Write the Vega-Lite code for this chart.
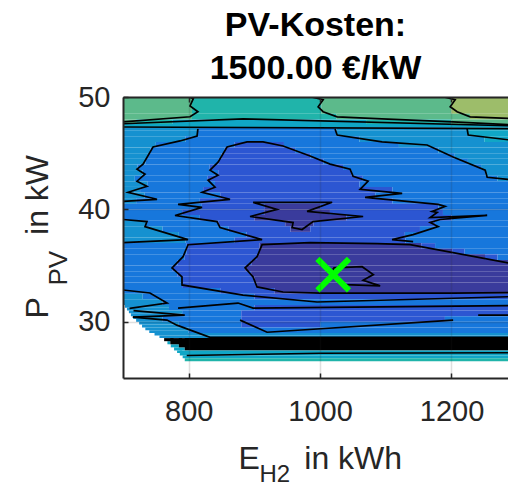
{
  "$schema": "https://vega.github.io/schema/vega-lite/v6.json",
  "width": 385,
  "height": 281,
  "autosize": "none",
  "padding": {"left": 123, "top": 97, "right": 0, "bottom": 107},
  "background": "white",
  "view": {"stroke": null},
  "title": {
    "text": ["PV-Kosten:", "1500.00 €/kW"],
    "font": "Liberation Sans",
    "fontSize": 34,
    "fontWeight": "bold",
    "color": "#000000",
    "lineHeight": 43,
    "offset": -3,
    "anchor": "middle"
  },
  "datasets": {
    "cells": [
      {"y": 48.5, "y2": 50, "x": 700, "x2": 805, "z": 6},
      {"y": 48.5, "y2": 50, "x": 805, "x2": 1002, "z": 5},
      {"y": 48.5, "y2": 50, "x": 1002, "x2": 1200, "z": 6},
      {"y": 48.5, "y2": 50, "x": 1200, "x2": 1300, "z": 7},
      {"y": 48.0, "y2": 48.5, "x": 700, "x2": 805, "z": 6},
      {"y": 48.0, "y2": 48.5, "x": 805, "x2": 1025, "z": 5},
      {"y": 48.0, "y2": 48.5, "x": 1025, "x2": 1228, "z": 6},
      {"y": 48.0, "y2": 48.5, "x": 1228, "x2": 1300, "z": 7},
      {"y": 47.6, "y2": 48.0, "x": 700, "x2": 720, "z": 6},
      {"y": 47.6, "y2": 48.0, "x": 720, "x2": 775, "z": 5},
      {"y": 47.6, "y2": 48.0, "x": 775, "x2": 1070, "z": 4},
      {"y": 47.6, "y2": 48.0, "x": 1070, "x2": 1200, "z": 5},
      {"y": 47.6, "y2": 48.0, "x": 1200, "x2": 1300, "z": 6},
      {"y": 47.3, "y2": 47.6, "x": 700, "x2": 1300, "z": 4},
      {"y": 47.0, "y2": 47.3, "x": 700, "x2": 814, "z": 3},
      {"y": 47.0, "y2": 47.3, "x": 814, "x2": 1025, "z": 2},
      {"y": 47.0, "y2": 47.3, "x": 1025, "x2": 1225, "z": 3},
      {"y": 47.0, "y2": 47.3, "x": 1225, "x2": 1300, "z": 4},
      {"y": 46.5, "y2": 47.0, "x": 700, "x2": 814, "z": 3},
      {"y": 46.5, "y2": 47.0, "x": 814, "x2": 1025, "z": 2},
      {"y": 46.5, "y2": 47.0, "x": 1025, "x2": 1225, "z": 3},
      {"y": 46.5, "y2": 47.0, "x": 1225, "x2": 1300, "z": 4},
      {"y": 46.0, "y2": 46.5, "x": 700, "x2": 795, "z": 3},
      {"y": 46.0, "y2": 46.5, "x": 795, "x2": 1060, "z": 2},
      {"y": 46.0, "y2": 46.5, "x": 1060, "x2": 1250, "z": 3},
      {"y": 46.0, "y2": 46.5, "x": 1250, "x2": 1300, "z": 4},
      {"y": 45.5, "y2": 46.0, "x": 700, "x2": 750, "z": 3},
      {"y": 45.5, "y2": 46.0, "x": 750, "x2": 870, "z": 2},
      {"y": 45.5, "y2": 46.0, "x": 870, "x2": 945, "z": 1},
      {"y": 45.5, "y2": 46.0, "x": 945, "x2": 1120, "z": 2},
      {"y": 45.5, "y2": 46.0, "x": 1120, "x2": 1300, "z": 3},
      {"y": 45.0, "y2": 45.5, "x": 700, "x2": 742, "z": 3},
      {"y": 45.0, "y2": 45.5, "x": 742, "x2": 855, "z": 2},
      {"y": 45.0, "y2": 45.5, "x": 855, "x2": 962, "z": 1},
      {"y": 45.0, "y2": 45.5, "x": 962, "x2": 1180, "z": 2},
      {"y": 45.0, "y2": 45.5, "x": 1180, "x2": 1300, "z": 3},
      {"y": 44.5, "y2": 45.0, "x": 700, "x2": 738, "z": 3},
      {"y": 44.5, "y2": 45.0, "x": 738, "x2": 850, "z": 2},
      {"y": 44.5, "y2": 45.0, "x": 850, "x2": 985, "z": 1},
      {"y": 44.5, "y2": 45.0, "x": 985, "x2": 1205, "z": 2},
      {"y": 44.5, "y2": 45.0, "x": 1205, "x2": 1300, "z": 3},
      {"y": 44.0, "y2": 44.5, "x": 700, "x2": 734, "z": 3},
      {"y": 44.0, "y2": 44.5, "x": 734, "x2": 845, "z": 2},
      {"y": 44.0, "y2": 44.5, "x": 845, "x2": 1005, "z": 1},
      {"y": 44.0, "y2": 44.5, "x": 1005, "x2": 1225, "z": 2},
      {"y": 44.0, "y2": 44.5, "x": 1225, "x2": 1300, "z": 3},
      {"y": 43.5, "y2": 44.0, "x": 700, "x2": 722, "z": 3},
      {"y": 43.5, "y2": 44.0, "x": 722, "x2": 832, "z": 2},
      {"y": 43.5, "y2": 44.0, "x": 832, "x2": 1035, "z": 1},
      {"y": 43.5, "y2": 44.0, "x": 1035, "x2": 1245, "z": 2},
      {"y": 43.5, "y2": 44.0, "x": 1245, "x2": 1300, "z": 3},
      {"y": 43.0, "y2": 43.5, "x": 700, "x2": 730, "z": 3},
      {"y": 43.0, "y2": 43.5, "x": 730, "x2": 845, "z": 2},
      {"y": 43.0, "y2": 43.5, "x": 845, "x2": 1048, "z": 1},
      {"y": 43.0, "y2": 43.5, "x": 1048, "x2": 1252, "z": 2},
      {"y": 43.0, "y2": 43.5, "x": 1252, "x2": 1300, "z": 3},
      {"y": 42.5, "y2": 43.0, "x": 700, "x2": 718, "z": 3},
      {"y": 42.5, "y2": 43.0, "x": 718, "x2": 829, "z": 2},
      {"y": 42.5, "y2": 43.0, "x": 829, "x2": 1065, "z": 1},
      {"y": 42.5, "y2": 43.0, "x": 1065, "x2": 1270, "z": 2},
      {"y": 42.5, "y2": 43.0, "x": 1270, "x2": 1300, "z": 3},
      {"y": 42.0, "y2": 42.5, "x": 700, "x2": 737, "z": 3},
      {"y": 42.0, "y2": 42.5, "x": 737, "x2": 840, "z": 2},
      {"y": 42.0, "y2": 42.5, "x": 840, "x2": 1060, "z": 1},
      {"y": 42.0, "y2": 42.5, "x": 1060, "x2": 1300, "z": 2},
      {"y": 41.5, "y2": 42.0, "x": 700, "x2": 726, "z": 3},
      {"y": 41.5, "y2": 42.0, "x": 726, "x2": 822, "z": 2},
      {"y": 41.5, "y2": 42.0, "x": 822, "x2": 1110, "z": 1},
      {"y": 41.5, "y2": 42.0, "x": 1110, "x2": 1300, "z": 2},
      {"y": 41.0, "y2": 41.5, "x": 700, "x2": 733, "z": 3},
      {"y": 41.0, "y2": 41.5, "x": 733, "x2": 848, "z": 2},
      {"y": 41.0, "y2": 41.5, "x": 848, "x2": 1084, "z": 1},
      {"y": 41.0, "y2": 41.5, "x": 1084, "x2": 1300, "z": 2},
      {"y": 40.5, "y2": 41.0, "x": 700, "x2": 720, "z": 3},
      {"y": 40.5, "y2": 41.0, "x": 720, "x2": 817, "z": 2},
      {"y": 40.5, "y2": 41.0, "x": 817, "x2": 1110, "z": 1},
      {"y": 40.5, "y2": 41.0, "x": 1110, "x2": 1300, "z": 2},
      {"y": 40.0, "y2": 40.5, "x": 700, "x2": 820, "z": 2},
      {"y": 40.0, "y2": 40.5, "x": 820, "x2": 916, "z": 1},
      {"y": 40.0, "y2": 40.5, "x": 916, "x2": 1000, "z": 0},
      {"y": 40.0, "y2": 40.5, "x": 1000, "x2": 1180, "z": 1},
      {"y": 40.0, "y2": 40.5, "x": 1180, "x2": 1300, "z": 2},
      {"y": 39.5, "y2": 40.0, "x": 700, "x2": 790, "z": 2},
      {"y": 39.5, "y2": 40.0, "x": 790, "x2": 915, "z": 1},
      {"y": 39.5, "y2": 40.0, "x": 915, "x2": 1015, "z": 0},
      {"y": 39.5, "y2": 40.0, "x": 1015, "x2": 1187, "z": 1},
      {"y": 39.5, "y2": 40.0, "x": 1187, "x2": 1300, "z": 2},
      {"y": 39.0, "y2": 39.5, "x": 700, "x2": 817, "z": 2},
      {"y": 39.0, "y2": 39.5, "x": 817, "x2": 900, "z": 1},
      {"y": 39.0, "y2": 39.5, "x": 900, "x2": 1040, "z": 0},
      {"y": 39.0, "y2": 39.5, "x": 1040, "x2": 1200, "z": 1},
      {"y": 39.0, "y2": 39.5, "x": 1200, "x2": 1300, "z": 2},
      {"y": 38.5, "y2": 39.0, "x": 700, "x2": 735, "z": 3},
      {"y": 38.5, "y2": 39.0, "x": 735, "x2": 845, "z": 2},
      {"y": 38.5, "y2": 39.0, "x": 845, "x2": 947, "z": 1},
      {"y": 38.5, "y2": 39.0, "x": 947, "x2": 990, "z": 0},
      {"y": 38.5, "y2": 39.0, "x": 990, "x2": 1175, "z": 1},
      {"y": 38.5, "y2": 39.0, "x": 1175, "x2": 1300, "z": 2},
      {"y": 38.0, "y2": 38.5, "x": 700, "x2": 760, "z": 3},
      {"y": 38.0, "y2": 38.5, "x": 760, "x2": 861, "z": 2},
      {"y": 38.0, "y2": 38.5, "x": 861, "x2": 955, "z": 1},
      {"y": 38.0, "y2": 38.5, "x": 955, "x2": 985, "z": 0},
      {"y": 38.0, "y2": 38.5, "x": 985, "x2": 1152, "z": 1},
      {"y": 38.0, "y2": 38.5, "x": 1152, "x2": 1300, "z": 2},
      {"y": 37.5, "y2": 38.0, "x": 700, "x2": 785, "z": 3},
      {"y": 37.5, "y2": 38.0, "x": 785, "x2": 888, "z": 2},
      {"y": 37.5, "y2": 38.0, "x": 888, "x2": 1129, "z": 1},
      {"y": 37.5, "y2": 38.0, "x": 1129, "x2": 1300, "z": 2},
      {"y": 37.0, "y2": 37.5, "x": 700, "x2": 795, "z": 3},
      {"y": 37.0, "y2": 37.5, "x": 795, "x2": 870, "z": 2},
      {"y": 37.0, "y2": 37.5, "x": 870, "x2": 1130, "z": 1},
      {"y": 37.0, "y2": 37.5, "x": 1130, "x2": 1300, "z": 2},
      {"y": 36.5, "y2": 37.0, "x": 700, "x2": 797, "z": 2},
      {"y": 36.5, "y2": 37.0, "x": 797, "x2": 908, "z": 1},
      {"y": 36.5, "y2": 37.0, "x": 908, "x2": 1154, "z": 0},
      {"y": 36.5, "y2": 37.0, "x": 1154, "x2": 1175, "z": 1},
      {"y": 36.5, "y2": 37.0, "x": 1175, "x2": 1300, "z": 2},
      {"y": 36.0, "y2": 36.5, "x": 700, "x2": 797, "z": 2},
      {"y": 36.0, "y2": 36.5, "x": 797, "x2": 907, "z": 1},
      {"y": 36.0, "y2": 36.5, "x": 907, "x2": 1201, "z": 0},
      {"y": 36.0, "y2": 36.5, "x": 1201, "x2": 1220, "z": 1},
      {"y": 36.0, "y2": 36.5, "x": 1220, "x2": 1300, "z": 2},
      {"y": 35.5, "y2": 36.0, "x": 700, "x2": 794, "z": 2},
      {"y": 35.5, "y2": 36.0, "x": 794, "x2": 904, "z": 1},
      {"y": 35.5, "y2": 36.0, "x": 904, "x2": 1251, "z": 0},
      {"y": 35.5, "y2": 36.0, "x": 1251, "x2": 1270, "z": 1},
      {"y": 35.5, "y2": 36.0, "x": 1270, "x2": 1300, "z": 2},
      {"y": 35.0, "y2": 35.5, "x": 700, "x2": 783, "z": 2},
      {"y": 35.0, "y2": 35.5, "x": 783, "x2": 896, "z": 1},
      {"y": 35.0, "y2": 35.5, "x": 896, "x2": 1300, "z": 0},
      {"y": 34.5, "y2": 35.0, "x": 700, "x2": 775, "z": 2},
      {"y": 34.5, "y2": 35.0, "x": 775, "x2": 886, "z": 1},
      {"y": 34.5, "y2": 35.0, "x": 886, "x2": 1300, "z": 0},
      {"y": 34.0, "y2": 34.5, "x": 700, "x2": 783, "z": 2},
      {"y": 34.0, "y2": 34.5, "x": 783, "x2": 895, "z": 1},
      {"y": 34.0, "y2": 34.5, "x": 895, "x2": 1300, "z": 0},
      {"y": 33.5, "y2": 34.0, "x": 700, "x2": 790, "z": 2},
      {"y": 33.5, "y2": 34.0, "x": 790, "x2": 900, "z": 1},
      {"y": 33.5, "y2": 34.0, "x": 900, "x2": 1300, "z": 0},
      {"y": 33.0, "y2": 33.5, "x": 700, "x2": 790, "z": 2},
      {"y": 33.0, "y2": 33.5, "x": 790, "x2": 904, "z": 1},
      {"y": 33.0, "y2": 33.5, "x": 904, "x2": 1300, "z": 0},
      {"y": 32.5, "y2": 33.0, "x": 700, "x2": 848, "z": 2},
      {"y": 32.5, "y2": 33.0, "x": 848, "x2": 931, "z": 1},
      {"y": 32.5, "y2": 33.0, "x": 931, "x2": 1300, "z": 0},
      {"y": 32.0, "y2": 32.5, "x": 700, "x2": 730, "z": 3},
      {"y": 32.0, "y2": 32.5, "x": 730, "x2": 900, "z": 2},
      {"y": 32.0, "y2": 32.5, "x": 900, "x2": 1300, "z": 1},
      {"y": 31.5, "y2": 32.0, "x": 700, "x2": 760, "z": 3},
      {"y": 31.5, "y2": 32.0, "x": 760, "x2": 1300, "z": 2},
      {"y": 31.25, "y2": 31.5, "x": 703, "x2": 770, "z": 3},
      {"y": 31.0, "y2": 31.25, "x": 706, "x2": 770, "z": 3},
      {"y": 31.0, "y2": 31.5, "x": 770, "x2": 900, "z": 2},
      {"y": 31.0, "y2": 31.5, "x": 900, "x2": 1300, "z": 1},
      {"y": 30.75, "y2": 31.0, "x": 709, "x2": 790, "z": 3},
      {"y": 30.5, "y2": 30.75, "x": 712, "x2": 790, "z": 3},
      {"y": 30.5, "y2": 31.0, "x": 790, "x2": 880, "z": 2},
      {"y": 30.5, "y2": 31.0, "x": 880, "x2": 1300, "z": 1},
      {"y": 30.25, "y2": 30.5, "x": 715.5, "x2": 760, "z": 3},
      {"y": 30.0, "y2": 30.25, "x": 720, "x2": 760, "z": 3},
      {"y": 30.0, "y2": 30.5, "x": 760, "x2": 880, "z": 2},
      {"y": 30.0, "y2": 30.5, "x": 880, "x2": 1190, "z": 1},
      {"y": 30.0, "y2": 30.5, "x": 1190, "x2": 1300, "z": 2},
      {"y": 29.75, "y2": 30.0, "x": 724.6, "x2": 785, "z": 3},
      {"y": 29.5, "y2": 29.75, "x": 729, "x2": 785, "z": 3},
      {"y": 29.5, "y2": 30.0, "x": 785, "x2": 880, "z": 2},
      {"y": 29.5, "y2": 30.0, "x": 880, "x2": 1000, "z": 1},
      {"y": 29.5, "y2": 30.0, "x": 1000, "x2": 1300, "z": 2},
      {"y": 29.25, "y2": 29.5, "x": 734, "x2": 800, "z": 3},
      {"y": 29.0, "y2": 29.25, "x": 740, "x2": 800, "z": 3},
      {"y": 29.0, "y2": 29.5, "x": 800, "x2": 1300, "z": 2},
      {"y": 28.775, "y2": 29.0, "x": 748, "x2": 1300, "z": 3},
      {"y": 28.55, "y2": 28.775, "x": 755.5, "x2": 1300, "z": 3},
      {"y": 28.0, "y2": 28.275, "x": 767.6, "x2": 772, "z": 4},
      {"y": 27.725, "y2": 28.0, "x": 772.7, "x2": 785, "z": 4},
      {"y": 27.45, "y2": 27.725, "x": 777.7, "x2": 794, "z": 4},
      {"y": 28.275, "y2": 28.55, "x": 762.6, "x2": 777, "z": 9},
      {"y": 28.0, "y2": 28.55, "x": 772, "x2": 790, "z": 9},
      {"y": 27.725, "y2": 28.55, "x": 785, "x2": 800, "z": 9},
      {"y": 27.45, "y2": 28.55, "x": 794, "x2": 1300, "z": 9},
      {"y": 27.225, "y2": 27.45, "x": 782.3, "x2": 790, "z": 4},
      {"y": 27.0, "y2": 27.45, "x": 786.5, "x2": 1300, "z": 4},
      {"y": 26.75, "y2": 27.0, "x": 790.8, "x2": 1300, "z": 4},
      {"y": 26.5, "y2": 26.75, "x": 794, "x2": 1300, "z": 5}
    ],
    "lines": [
      {"id": "t1", "i": 0, "x": 700, "y": 47.62}, {"id": "t1", "i": 1, "x": 883, "y": 48.05}, {"id": "t1", "i": 2, "x": 1300, "y": 47.42},
      {"id": "t2", "i": 0, "x": 700, "y": 47.33}, {"id": "t2", "i": 1, "x": 1300, "y": 47.18},
      {"id": "g1", "i": 0, "x": 700, "y": 47.79}, {"id": "g1", "i": 1, "x": 802, "y": 48.24}, {"id": "g1", "i": 2, "x": 814, "y": 48.69}, {"id": "g1", "i": 3, "x": 802, "y": 49.2}, {"id": "g1", "i": 4, "x": 807, "y": 49.85}, {"id": "g1", "i": 5, "x": 797, "y": 50.1},
      {"id": "g2", "i": 0, "x": 985, "y": 50.03}, {"id": "g2", "i": 1, "x": 1004.6, "y": 49.76}, {"id": "g2", "i": 2, "x": 997, "y": 49.13}, {"id": "g2", "i": 3, "x": 1004.6, "y": 48.69}, {"id": "g2", "i": 4, "x": 1026, "y": 48.24}, {"id": "g2", "i": 5, "x": 1094, "y": 48.06}, {"id": "g2", "i": 6, "x": 1202.5, "y": 47.79}, {"id": "g2", "i": 7, "x": 1300, "y": 47.5},
      {"id": "g3", "i": 0, "x": 1187, "y": 50.03}, {"id": "g3", "i": 1, "x": 1205.6, "y": 49.76}, {"id": "g3", "i": 2, "x": 1198, "y": 49.13}, {"id": "g3", "i": 3, "x": 1208.6, "y": 48.69}, {"id": "g3", "i": 4, "x": 1228.4, "y": 48.24}, {"id": "g3", "i": 5, "x": 1300, "y": 48.06},
      {"id": "c3l", "i": 0, "x": 814, "y": 47.16}, {"id": "c3l", "i": 1, "x": 812.7, "y": 46.53}, {"id": "c3l", "i": 2, "x": 786.8, "y": 46.09}, {"id": "c3l", "i": 3, "x": 745.7, "y": 45.55}, {"id": "c3l", "i": 4, "x": 730.5, "y": 44.03}, {"id": "c3l", "i": 5, "x": 721.3, "y": 43.58}, {"id": "c3l", "i": 6, "x": 733.5, "y": 43.13}, {"id": "c3l", "i": 7, "x": 721.3, "y": 42.51}, {"id": "c3l", "i": 8, "x": 736.5, "y": 42.06}, {"id": "c3l", "i": 9, "x": 707.6, "y": 41.52}, {"id": "c3l", "i": 10, "x": 751.8, "y": 40.9}, {"id": "c3l", "i": 11, "x": 700, "y": 40.72},
      {"id": "c3r", "i": 0, "x": 1022.8, "y": 47.16}, {"id": "c3r", "i": 1, "x": 1025.9, "y": 46.62}, {"id": "c3r", "i": 2, "x": 1094.4, "y": 46.0}, {"id": "c3r", "i": 3, "x": 1162.9, "y": 45.73}, {"id": "c3r", "i": 4, "x": 1202.5, "y": 44.66}, {"id": "c3r", "i": 5, "x": 1251.3, "y": 43.49}, {"id": "c3r", "i": 6, "x": 1254.3, "y": 42.86}, {"id": "c3r", "i": 7, "x": 1300, "y": 42.6},
      {"id": "c4r", "i": 0, "x": 1223.8, "y": 47.16}, {"id": "c4r", "i": 1, "x": 1225.4, "y": 46.62}, {"id": "c4r", "i": 2, "x": 1300, "y": 46.1},
      {"id": "w2", "i": 0, "x": 700, "y": 39.1}, {"id": "w2", "i": 1, "x": 736.5, "y": 38.92}, {"id": "w2", "i": 2, "x": 733.5, "y": 38.47}, {"id": "w2", "i": 3, "x": 799, "y": 37.31}, {"id": "w2", "i": 4, "x": 700, "y": 37.04},
      {"id": "c1", "i": 0, "x": 1300, "y": 32.25}, {"id": "c1", "i": 1, "x": 995.4, "y": 31.76}, {"id": "c1", "i": 2, "x": 882.7, "y": 32.38}, {"id": "c1", "i": 3, "x": 789.8, "y": 33.28}, {"id": "c1", "i": 4, "x": 789.8, "y": 33.99}, {"id": "c1", "i": 5, "x": 774.6, "y": 34.8}, {"id": "c1", "i": 6, "x": 791.4, "y": 35.79}, {"id": "c1", "i": 7, "x": 799, "y": 36.86}, {"id": "c1", "i": 8, "x": 911.7, "y": 37.31}, {"id": "c1", "i": 9, "x": 847.7, "y": 38.38}, {"id": "c1", "i": 10, "x": 843.1, "y": 38.92}, {"id": "c1", "i": 11, "x": 779.2, "y": 39.46}, {"id": "c1", "i": 12, "x": 820.3, "y": 40.18}, {"id": "c1", "i": 13, "x": 783.8, "y": 40.45}, {"id": "c1", "i": 14, "x": 862.9, "y": 40.9}, {"id": "c1", "i": 15, "x": 820.3, "y": 41.52}, {"id": "c1", "i": 16, "x": 840.1, "y": 41.97}, {"id": "c1", "i": 17, "x": 829.4, "y": 42.6}, {"id": "c1", "i": 18, "x": 844.7, "y": 43.04}, {"id": "c1", "i": 19, "x": 832.5, "y": 43.49}, {"id": "c1", "i": 20, "x": 844.7, "y": 44.2}, {"id": "c1", "i": 21, "x": 858.4, "y": 45.55}, {"id": "c1", "i": 22, "x": 888.8, "y": 46.0}, {"id": "c1", "i": 23, "x": 913.2, "y": 46.0}, {"id": "c1", "i": 24, "x": 943.6, "y": 45.64}, {"id": "c1", "i": 25, "x": 984.8, "y": 44.75}, {"id": "c1", "i": 26, "x": 1015.2, "y": 44.03}, {"id": "c1", "i": 27, "x": 1045.7, "y": 43.58}, {"id": "c1", "i": 28, "x": 1050.2, "y": 42.95}, {"id": "c1", "i": 29, "x": 1073.1, "y": 42.51}, {"id": "c1", "i": 30, "x": 1060.9, "y": 41.79}, {"id": "c1", "i": 31, "x": 1124.9, "y": 41.43}, {"id": "c1", "i": 32, "x": 1068.5, "y": 41.07}, {"id": "c1", "i": 33, "x": 1179.7, "y": 40.45}, {"id": "c1", "i": 34, "x": 1190.3, "y": 40.27}, {"id": "c1", "i": 35, "x": 1170.5, "y": 39.82}, {"id": "c1", "i": 36, "x": 1178.2, "y": 39.73}, {"id": "c1", "i": 37, "x": 1167.5, "y": 39.28}, {"id": "c1", "i": 38, "x": 1254.3, "y": 39.46}, {"id": "c1", "i": 39, "x": 1182.7, "y": 39.1}, {"id": "c1", "i": 40, "x": 1167.5, "y": 38.83}, {"id": "c1", "i": 41, "x": 1179.7, "y": 38.47}, {"id": "c1", "i": 42, "x": 1141.6, "y": 37.76}, {"id": "c1", "i": 43, "x": 1109.6, "y": 37.31}, {"id": "c1", "i": 44, "x": 1141.6, "y": 37.13},
      {"id": "c0i", "i": 0, "x": 898, "y": 40.63}, {"id": "c0i", "i": 1, "x": 1018.3, "y": 40.63}, {"id": "c0i", "i": 2, "x": 980.2, "y": 39.82}, {"id": "c0i", "i": 3, "x": 1065.5, "y": 39.37}, {"id": "c0i", "i": 4, "x": 989.3, "y": 38.92}, {"id": "c0i", "i": 5, "x": 972.6, "y": 38.21}, {"id": "c0i", "i": 6, "x": 957.4, "y": 38.38}, {"id": "c0i", "i": 7, "x": 958.9, "y": 38.83}, {"id": "c0i", "i": 8, "x": 893.4, "y": 39.37}, {"id": "c0i", "i": 9, "x": 934.5, "y": 40.0}, {"id": "c0i", "i": 10, "x": 898, "y": 40.63},
      {"id": "c0b", "i": 0, "x": 1300, "y": 35.1}, {"id": "c0b", "i": 1, "x": 1137, "y": 36.86}, {"id": "c0b", "i": 2, "x": 1086.8, "y": 36.95}, {"id": "c0b", "i": 3, "x": 984.8, "y": 37.04}, {"id": "c0b", "i": 4, "x": 911.7, "y": 36.86}, {"id": "c0b", "i": 5, "x": 904, "y": 35.79}, {"id": "c0b", "i": 6, "x": 885.8, "y": 34.8}, {"id": "c0b", "i": 7, "x": 898, "y": 33.99}, {"id": "c0b", "i": 8, "x": 904, "y": 33.1}, {"id": "c0b", "i": 9, "x": 943.6, "y": 32.65}, {"id": "c0b", "i": 10, "x": 1000, "y": 32.56}, {"id": "c0b", "i": 11, "x": 1202.5, "y": 32.56}, {"id": "c0b", "i": 12, "x": 1300, "y": 32.6},
      {"id": "xi", "i": 0, "x": 1020, "y": 34.8}, {"id": "xi", "i": 1, "x": 1064, "y": 34.9}, {"id": "xi", "i": 2, "x": 1081, "y": 34.2}, {"id": "xi", "i": 3, "x": 1065.5, "y": 33.7}, {"id": "xi", "i": 4, "x": 1091.4, "y": 33.2}, {"id": "xi", "i": 5, "x": 1038, "y": 33.3}, {"id": "xi", "i": 6, "x": 1023, "y": 33.99}, {"id": "xi", "i": 7, "x": 1020, "y": 34.8},
      {"id": "b1", "i": 0, "x": 700, "y": 32.83}, {"id": "b1", "i": 1, "x": 741, "y": 32.56}, {"id": "b1", "i": 2, "x": 767, "y": 31.67}, {"id": "b1", "i": 3, "x": 710, "y": 31.2},
      {"id": "b2", "i": 0, "x": 716, "y": 31.0}, {"id": "b2", "i": 1, "x": 794, "y": 30.59}, {"id": "b2", "i": 2, "x": 715, "y": 30.42},
      {"id": "b3", "i": 0, "x": 783.8, "y": 31.22}, {"id": "b3", "i": 1, "x": 875.1, "y": 31.67}, {"id": "b3", "i": 2, "x": 898, "y": 31.22}, {"id": "b3", "i": 3, "x": 1300, "y": 31.45},
      {"id": "b4", "i": 0, "x": 715, "y": 30.42}, {"id": "b4", "i": 1, "x": 767, "y": 30.15}, {"id": "b4", "i": 2, "x": 782, "y": 29.7}, {"id": "b4", "i": 3, "x": 832.5, "y": 28.62}, {"id": "b4", "i": 4, "x": 1300, "y": 28.62},
      {"id": "b5", "i": 0, "x": 878.2, "y": 30.15}, {"id": "b5", "i": 1, "x": 919.3, "y": 29.07}, {"id": "b5", "i": 2, "x": 1202.5, "y": 30.15},
      {"id": "b6", "i": 0, "x": 1240.6, "y": 30.59}, {"id": "b6", "i": 1, "x": 1300, "y": 30.59},
      {"id": "b7", "i": 0, "x": 797, "y": 27.0}, {"id": "b7", "i": 1, "x": 1000, "y": 27.2}, {"id": "b7", "i": 2, "x": 1300, "y": 27.25}
    ],
    "marker": [
      {"x": 1020, "y": 34.2}
    ]
  },
  "layer": [
    {
      "data": {"name": "cells"},
      "mark": {"type": "rect", "clip": true, "strokeWidth": 0},
      "encoding": {
        "x": {
          "field": "x", "type": "quantitative",
          "scale": {"domain": [700, 1286], "nice": false, "zero": false},
          "axis": {
            "orient": "bottom", "values": [800, 1000, 1200], "format": "d",
            "labelFont": "Liberation Sans", "labelFontSize": 29, "labelColor": "#262626", "labelPadding": 24,
            "domainColor": "#262626", "domainWidth": 2,
            "ticks": true, "tickSize": -5, "tickColor": "#262626", "tickWidth": 1.5,
            "grid": true, "gridColor": "#262626", "gridOpacity": 0.15, "gridWidth": 1.5,
            "zindex": 1,
            "title": "E\u00a0\u00a0\u00a0\u00a0\u00a0in kWh",
            "titleFont": "Liberation Sans", "titleFontSize": 32, "titleFontWeight": "normal", "titleColor": "#262626",
            "titleX": 115, "titleY": 90, "titleAlign": "left", "titleBaseline": "alphabetic"
          }
        },
        "x2": {"field": "x2"},
        "y": {
          "field": "y", "type": "quantitative",
          "scale": {"domain": [25, 50], "nice": false, "zero": false},
          "axis": {
            "orient": "left", "values": [30, 40, 50], "format": "d",
            "labelFont": "Liberation Sans", "labelFontSize": 29, "labelColor": "#262626", "labelPadding": 18,
            "domainColor": "#262626", "domainWidth": 2,
            "ticks": true, "tickSize": -5, "tickColor": "#262626", "tickWidth": 1.5,
            "grid": true, "gridColor": "#262626", "gridOpacity": 0.15, "gridWidth": 1.5,
            "zindex": 1,
            "title": "P\u00a0\u00a0\u00a0\u00a0\u00a0\u00a0\u00a0in kW",
            "titleFont": "Liberation Sans", "titleFontSize": 32, "titleFontWeight": "normal", "titleColor": "#262626",
            "titleAngle": 270, "titleX": -76, "titleY": 221, "titleAlign": "left", "titleBaseline": "alphabetic"
          }
        },
        "y2": {"field": "y2"},
        "color": {
          "field": "z", "type": "ordinal",
          "scale": {
            "domain": [0, 1, 2, 3, 4, 5, 6, 7, 9],
            "range": ["#3a3b9c", "#2c56d2", "#1777dc", "#1591d0", "#10a6c6", "#20b4aa", "#5cba8b", "#9dbd6a", "#000000"]
          },
          "legend": null
        }
      }
    },
    {
      "data": {"name": "lines"},
      "mark": {"type": "line", "clip": true, "color": "#000000", "strokeWidth": 1.7, "strokeJoin": "miter"},
      "encoding": {
        "x": {"field": "x", "type": "quantitative", "axis": null},
        "y": {"field": "y", "type": "quantitative", "axis": null},
        "detail": {"field": "id"},
        "order": {"field": "i"}
      }
    },
    {
      "data": {"name": "marker"},
      "mark": {"type": "point", "shape": "M-1,-1L1,1M1,-1L-1,1", "filled": false, "stroke": "#00ff00", "strokeWidth": 6, "size": 1000, "opacity": 1},
      "encoding": {
        "x": {
          "field": "x", "type": "quantitative",
          "axis": {
            "orient": "top", "values": [800, 1000, 1200], "labels": false,
            "domainColor": "#262626", "domainWidth": 2,
            "ticks": true, "tickSize": -5, "tickColor": "#262626", "tickWidth": 1.5,
            "grid": false, "zindex": 1,
            "title": "H2", "titleFont": "Liberation Sans", "titleFontSize": 24, "titleFontWeight": "normal", "titleColor": "#262626",
            "titleX": 136, "titleY": 384, "titleAlign": "left", "titleBaseline": "alphabetic"
          }
        },
        "y": {
          "field": "y", "type": "quantitative",
          "axis": {
            "orient": "right", "labels": false, "ticks": false, "domain": false, "grid": false,
            "title": "PV", "titleFont": "Liberation Sans", "titleFontSize": 26, "titleFontWeight": "normal", "titleColor": "#262626",
            "titleAngle": 270, "titleX": -442, "titleY": 188, "titleAlign": "left", "titleBaseline": "alphabetic"
          }
        }
      }
    }
  ],
  "resolve": {"axis": {"x": "independent", "y": "independent"}}
}
